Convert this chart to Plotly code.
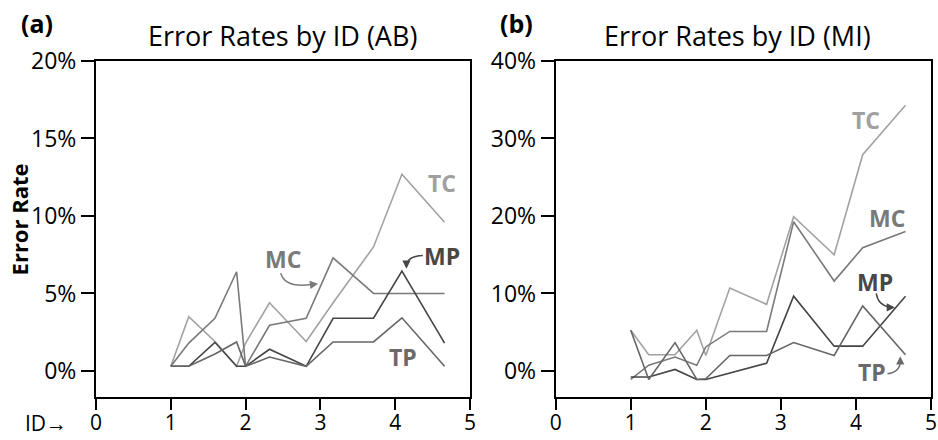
import plotly.graph_objects as go

# ---------------- data ----------------
ids = [1.0, 1.24, 1.59, 1.88, 2.0, 2.32, 2.81, 3.17, 3.71, 4.09, 4.66]

ab_tc = [0.3, 3.5, 1.9, 0.3, 1.8, 4.4, 1.9, 4.4, 8.0, 12.7, 9.6]
ab_mc = [0.3, 1.8, 3.4, 6.4, 0.3, 2.95, 3.4, 7.3, 5.0, 5.0, 5.0]
ab_mp = [0.3, 0.3, 1.85, 0.3, 0.3, 1.4, 0.3, 3.4, 3.4, 6.45, 1.8]
ab_tp = [0.3, 0.3, 1.1, 1.87, 0.3, 0.9, 0.3, 1.87, 1.87, 3.43, 0.3]

mi_tc = [5.26, 2.1, 2.1, 5.26, 2.0, 10.7, 8.6, 19.9, 15.0, 27.9, 34.3]
mi_mc = [-1.1, 0.74, 1.8, 0.74, 3.1, 5.1, 5.1, 19.25, 11.6, 15.9, 18.0]
mi_mp = [-0.77, -0.77, 0.2, -1.1, -1.1, -0.3, 1.0, 9.65, 3.2, 3.2, 9.65]
mi_tp = [5.26, -1.1, 3.66, -1.1, -1.0, 2.0, 2.0, 3.66, 2.0, 8.4, 2.1]

series_names = ["TC", "MC", "MP", "TP"]
colors = {"TC": "#a2a2a2", "MC": "#7a7a7a", "MP": "#454545", "TP": "#666666"}
label_colors = {"TC": "#a0a0a0", "MC": "#7a7a7a", "MP": "#474747", "TP": "#6a6a6a"}

x_ticks = [0, 1, 2, 3, 4, 5]
ab_yticks = [0, 5, 10, 15, 20]
mi_yticks = [0, 10, 20, 30, 40]

FONT = "Open Sans"

fig = go.Figure()

ab = {"TC": ab_tc, "MC": ab_mc, "MP": ab_mp, "TP": ab_tp}
mi = {"TC": mi_tc, "MC": mi_mc, "MP": mi_mp, "TP": mi_tp}

for name in series_names:
    fig.add_trace(go.Scatter(x=ids, y=ab[name], mode="lines", xaxis="x", yaxis="y",
                             line=dict(color=colors[name], width=1.6), showlegend=False,
                             name=name))
for name in series_names:
    fig.add_trace(go.Scatter(x=ids, y=mi[name], mode="lines", xaxis="x2", yaxis="y2",
                             line=dict(color=colors[name], width=1.6), showlegend=False,
                             name=name))

axis_common = dict(showline=True, linecolor="black", linewidth=2, mirror=True,
                   ticks="outside", tickwidth=2, tickcolor="black",
                   showgrid=False, zeroline=False, automargin=False)
x_common = dict(ticklen=11, ticklabelstandoff=-5,
                tickfont=dict(family=FONT, size=21, color="black"), **axis_common)
y_common = dict(ticklen=13, tickfont=dict(family=FONT, size=23, color="black"), **axis_common)

fig.update_layout(
    width=938, height=440,
    margin=dict(l=96, r=7, t=61, b=43),
    plot_bgcolor="white", paper_bgcolor="white",
    xaxis=dict(domain=[0, 0.4479], range=[0, 5], tickvals=x_ticks, **x_common),
    yaxis=dict(range=[-1.68, 20], tickvals=ab_yticks,
               ticktext=[f"{v}%" for v in ab_yticks], **y_common),
    xaxis2=dict(domain=[0.5505, 1], range=[0, 5], tickvals=x_ticks, anchor="y2", **x_common),
    yaxis2=dict(range=[-3.36, 40], tickvals=mi_yticks, anchor="x2",
                ticktext=[f"{v}%" for v in mi_yticks], **y_common),
)

annotations = []
def ptext(text, x, y, size, angle=0):
    annotations.append(dict(text=text, x=x, y=y, xref="paper", yref="paper",
                            xanchor="center", yanchor="middle", textangle=angle,
                            showarrow=False, font=dict(family=FONT, size=size, color="black")))

# titles and panel letters
ptext("<b>(a)</b>", -0.0707, 1.112, 25)
ptext("<b>(b)</b>", 0.504, 1.112, 25)
ptext("Error Rates by ID (AB)", 0.2239, 1.0765, 27)
ptext("Error Rates by ID (MI)", 0.768, 1.0765, 27)
ptext("<b>Error Rate</b>", -0.092, 0.529, 22, -90)
ptext("ID→", -0.06, -0.077, 21)

# series labels
lab_a = {"TC": (4.62, 12.1), "MC": (2.50, 7.2), "MP": (4.63, 7.45), "TP": (4.11, 0.9)}
lab_b = {"TC": (4.13, 32.4), "MC": (4.41, 19.7), "MP": (4.25, 11.5), "TP": (4.21, -0.15)}
for name, (lx, ly) in lab_a.items():
    annotations.append(dict(text=f"<b>{name}</b>", x=lx, y=ly, xref="x", yref="y", showarrow=False,
                            xanchor="center", yanchor="middle",
                            font=dict(family=FONT, size=23, color=label_colors[name])))
for name, (lx, ly) in lab_b.items():
    annotations.append(dict(text=f"<b>{name}</b>", x=lx, y=ly, xref="x2", yref="y2", showarrow=False,
                            xanchor="center", yanchor="middle",
                            font=dict(family=FONT, size=23, color=label_colors[name])))

# curved arrows: path shapes + arrowheads
shapes = []
def curve(xr, yr, p0, c, p1, color):
    shapes.append(dict(type="path", xref=xr, yref=yr,
                       path=f"M {p0[0]},{p0[1]} Q {c[0]},{c[1]} {p1[0]},{p1[1]}",
                       line=dict(color=color, width=1.5)))

def head(xr, yr, p, ax, ay, color):
    annotations.append(dict(x=p[0], y=p[1], xref=xr, yref=yr, ax=ax, ay=ay, text="",
                            showarrow=True, arrowhead=2, arrowsize=1.1, arrowwidth=1.5,
                            arrowcolor=color))

curve("x", "y", (2.47, 6.3), (2.53, 5.3), (2.90, 5.6), label_colors["MC"])
head("x", "y", (2.97, 5.62), -8, 1, label_colors["MC"])
curve("x", "y", (4.37, 7.45), (4.15, 7.4), (4.15, 6.75), label_colors["MP"])
head("x", "y", (4.15, 6.6), 0, -8, label_colors["MP"])
curve("x2", "y2", (4.27, 10.0), (4.30, 8.4), (4.45, 8.25), label_colors["MP"])
head("x2", "y2", (4.52, 8.2), -8, 0, label_colors["MP"])
curve("x2", "y2", (4.42, -0.35), (4.59, -0.15), (4.59, 1.3), label_colors["TP"])
head("x2", "y2", (4.59, 1.9), 0, 8, label_colors["TP"])

fig.update_layout(annotations=annotations, shapes=shapes)

fig.write_html("out.html")
